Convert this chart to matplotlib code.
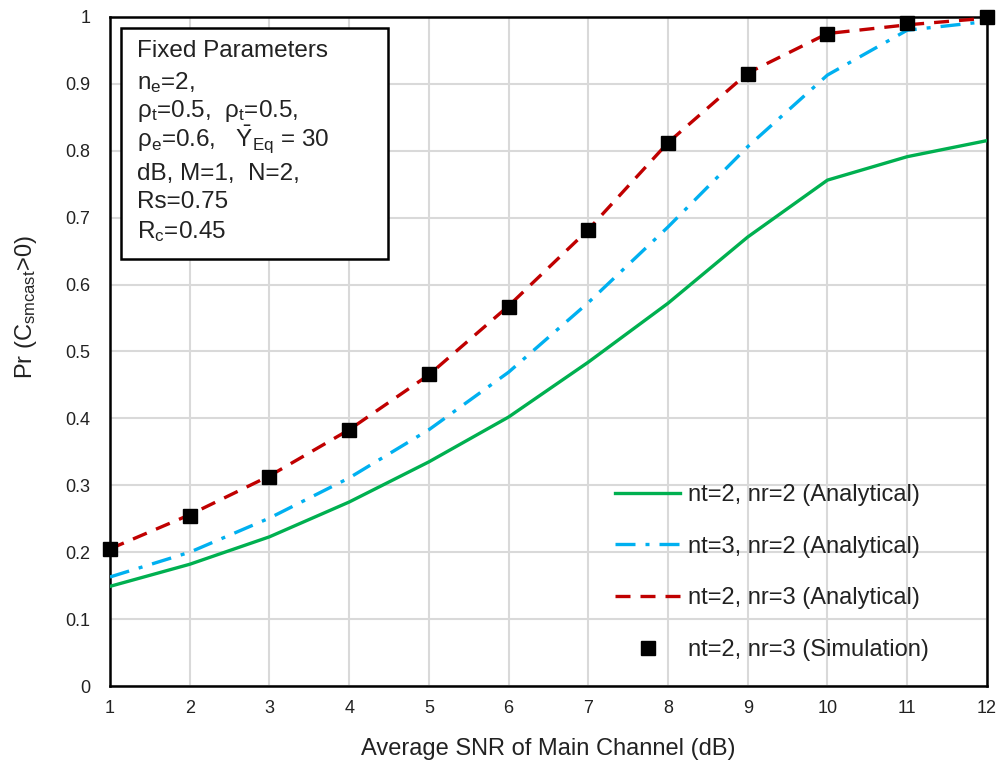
import matplotlib
matplotlib.use("Agg")
import matplotlib.pyplot as plt
from matplotlib.patches import Rectangle

plt.rcParams['font.family'] = ['Liberation Sans', 'DejaVu Sans']
plt.rcParams['mathtext.default'] = 'regular'

snr = [1, 2, 3, 4, 5, 6, 7, 8, 9, 10, 11, 12]
nt2_nr2 = [0.149, 0.182, 0.223, 0.275, 0.335, 0.402, 0.484, 0.572, 0.671, 0.756, 0.791, 0.815]
nt3_nr2 = [0.163, 0.200, 0.251, 0.311, 0.383, 0.469, 0.573, 0.686, 0.806, 0.913, 0.980, 0.993]
nt2_nr3 = [0.205, 0.256, 0.314, 0.383, 0.465, 0.568, 0.682, 0.812, 0.916, 0.975, 0.988, 0.998]
nt2_nr3_sim = [0.205, 0.254, 0.312, 0.383, 0.466, 0.567, 0.682, 0.812, 0.915, 0.975, 0.991, 0.999]

yticks = [0, 0.1, 0.2, 0.3, 0.4, 0.5, 0.6, 0.7, 0.8, 0.9, 1]
ytick_labels = ['0', '0.1', '0.2', '0.3', '0.4', '0.5', '0.6', '0.7', '0.8', '0.9', '1']

box_lines = ['Fixed Parameters',
             'n$_{e}$=2,',
             '\u03c1$_{t}$=0.5,  \u03c1$_{t}$=0.5,',
             '\u03c1$_{e}$=0.6,   $\\bar{Y}_{Eq}$ = 30',
             'dB, M=1,  N=2,',
             'Rs=0.75',
             'R$_{c}$=0.45']
# baselines of the box lines, axes fraction
box_line_y = [0.940, 0.892, 0.851, 0.806, 0.756, 0.714, 0.670]

fig = plt.figure(figsize=(10.01, 7.64), dpi=100)
ax = fig.add_axes([0.1099, 0.102, 0.876, 0.876])

ax.plot(snr, nt2_nr2, color='#00b050', lw=2.4, label='nt=2, nr=2 (Analytical)', zorder=3)
ax.plot(snr, nt3_nr2, color='#00b0f0', lw=2.4, ls=(0, (6, 3, 1.2, 3)), label='nt=3, nr=2 (Analytical)', zorder=3)
ax.plot(snr, nt2_nr3, color='#c00000', lw=2.4, ls=(0, (4.5, 3)), label='nt=2, nr=3 (Analytical)', zorder=3)
ax.plot(snr, nt2_nr3_sim, 's', color='black', ms=10, label='nt=2, nr=3 (Simulation)', zorder=4, clip_on=False)

ax.set_xlim(1, 12)
ax.set_ylim(0, 1)
ax.set_xticks(snr)
ax.set_yticks(yticks)
ax.set_yticklabels(ytick_labels)
ax.tick_params(length=0, labelsize=13, colors='#222222')
ax.tick_params(axis='x', pad=10)
ax.tick_params(axis='y', pad=14)
ax.grid(True, color='#d9d9d9', lw=1.5)
ax.set_axisbelow(True)
for s in ax.spines.values():
    s.set_linewidth(1.8)
    s.set_color('black')

ax.set_xlabel('Average SNR of Main Channel (dB)', fontsize=17, color='#222222')
ax.xaxis.set_label_coords(0.5, -0.077)
ax.set_ylabel('Pr (C$_{smcast}$>0)', fontsize=17, color='#222222')
ax.yaxis.set_label_coords(-0.081, 0.567)

# parameter box
ax.add_patch(Rectangle((0.0125, 0.638), 0.305, 0.345, transform=ax.transAxes,
                       fc='white', ec='black', lw=1.8, zorder=5))
for line, yy in zip(box_lines, box_line_y):
    ax.text(0.031, yy, line, transform=ax.transAxes, fontsize=17.5, va='baseline', ha='left',
            color='#222222', zorder=6)

leg = ax.legend(loc='upper left', bbox_to_anchor=(0.576, 0.302), frameon=False, fontsize=17,
                labelspacing=1.26, handlelength=2.75, handletextpad=0.34,
                borderpad=0, borderaxespad=0)
for t in leg.get_texts():
    t.set_color('#222222')

fig.savefig('out.png', dpi=100)
